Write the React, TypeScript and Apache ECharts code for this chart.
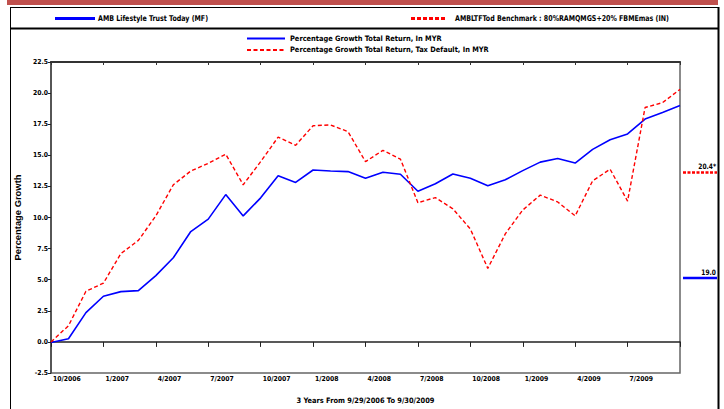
import React, { useEffect, useRef } from "react";
import * as echarts from "echarts";

const months = [
  "10/2006", "11/2006", "12/2006", "1/2007", "2/2007", "3/2007", "4/2007", "5/2007", "6/2007",
  "7/2007", "8/2007", "9/2007", "10/2007", "11/2007", "12/2007", "1/2008", "2/2008", "3/2008",
  "4/2008", "5/2008", "6/2008", "7/2008", "8/2008", "9/2008", "10/2008", "11/2008", "12/2008",
  "1/2009", "2/2009", "3/2009", "4/2009", "5/2009", "6/2009", "7/2009", "8/2009", "9/2009", "10/2009",
];

const fundName = "Percentage Growth Total Return, In MYR";
const benchName = "Percentage Growth Total Return, Tax Default, In MYR";

const fundValues = [
  -0.05, 0.25, 2.35, 3.67, 4.04, 4.12, 5.33, 6.76, 8.87, 9.87, 11.84, 10.13, 11.58,
  13.35, 12.82, 13.82, 13.74, 13.69, 13.16, 13.64, 13.48, 12.11, 12.71, 13.5, 13.16,
  12.56, 13.03, 13.77, 14.45, 14.75, 14.38, 15.48, 16.25, 16.72, 17.91, 18.44, 19.0,
];

const benchValues = [
  0.0, 1.3, 4.07, 4.72, 7.1, 8.16, 10.13, 12.63, 13.74, 14.35, 15.09, 12.63, 14.49,
  16.46, 15.8, 17.38, 17.44, 16.9, 14.49, 15.4, 14.69, 11.19, 11.6, 10.7, 9.08,
  5.91, 8.68, 10.6, 11.8, 11.25, 10.13, 12.95, 13.88, 11.32, 18.84, 19.23, 20.3,
];

const topLegend = ["AMB Lifestyle Trust Today (MF)", "AMBLTFTod Benchmark : 80%RAMQMGS+20% FBMEmas (IN)"];
const endLabels = ["19.0", "20.4*"];
const yAxisTitle = "Percentage Growth";
const xAxisTitle = "3 Years From 9/29/2006 To 9/30/2009";

const NARROW = "'Liberation Sans Narrow', 'Arial Narrow', 'DejaVu Sans Condensed', sans-serif";
const WIDE = "'Liberation Sans', Arial, sans-serif";

export default function App() {
  const ref = useRef<HTMLDivElement>(null);

  useEffect(() => {
    document.body.style.margin = "0";
    const chart = echarts.init(ref.current!, null, { renderer: "svg" });
    const tickFn = (i: number) => i % 3 === 0;
    const labelFn = (i: number) => i % 3 === 0 && i < months.length - 1;
    const narrowText = (text: string, x: number, y: number, extra: any = {}) => ({
      type: "text",
      x,
      y,
      scaleX: 0.88,
      style: {
        text,
        fontFamily: NARROW,
        fontWeight: "bold",
        fontSize: 8,
        fill: "#000",
        verticalAlign: "middle",
        ...extra,
      },
    });
    chart.setOption({
      animation: false,
      backgroundColor: "#fff",
      grid: {
        left: 51,
        right: 44,
        top: 62,
        bottom: 31,
        show: true,
        borderColor: "#666",
        borderWidth: 1.5,
      },
      legend: {
        left: 246,
        top: 35,
        orient: "vertical",
        itemWidth: 38,
        itemHeight: 8,
        itemGap: 4.4,
        padding: 0,
        itemStyle: { opacity: 0 },
        textStyle: { fontFamily: NARROW, fontWeight: "bold", fontSize: 7.4, color: "#000" },
        data: [fundName, benchName],
      },
      xAxis: [
        {
          type: "category",
          data: months,
          boundaryGap: false,
          position: "bottom",
          axisLine: { lineStyle: { color: "#222", width: 1.5 } },
          axisTick: { interval: tickFn, length: 5, lineStyle: { color: "#222" } },
          axisLabel: {
            interval: labelFn,
            align: "left",
            padding: [0, 0, 0, 2],
            margin: 2,
            fontFamily: NARROW,
            fontWeight: "bold",
            fontSize: 6.8,
            color: "#000",
          },
          splitLine: { show: false },
          name: xAxisTitle,
          nameLocation: "middle",
          nameGap: 24,
          nameTextStyle: { fontFamily: NARROW, fontWeight: "bold", fontSize: 7.4, color: "#000" },
        },
        {
          type: "category",
          data: months,
          boundaryGap: false,
          position: "top",
          axisLine: { lineStyle: { color: "#333", width: 2 } },
          axisTick: { interval: tickFn, inside: true, length: 3, lineStyle: { color: "#333" } },
          axisLabel: { show: false },
          splitLine: { show: false },
        },
      ],
      yAxis: {
        type: "value",
        min: -2.5,
        max: 22.5,
        interval: 2.5,
        axisLine: { show: true, lineStyle: { color: "#444", width: 1.5 } },
        axisTick: { show: true, length: 3, lineStyle: { color: "#222" } },
        axisLabel: {
          formatter: (v: number) => v.toFixed(1),
          margin: 3,
          fontFamily: NARROW,
          fontWeight: "bold",
          fontSize: 6.8,
          color: "#000",
        },
        splitLine: { show: false },
        name: yAxisTitle,
        nameLocation: "middle",
        nameGap: 26,
        nameRotate: 90,
        nameTextStyle: { fontFamily: WIDE, fontWeight: "bold", fontSize: 9.4, color: "#000" },
      },
      series: [
        {
          name: fundName,
          type: "line",
          data: fundValues,
          symbol: "none",
          lineStyle: { color: "#0000ff", width: 1.6 },
          itemStyle: { color: "#0000ff" },
        },
        {
          name: benchName,
          type: "line",
          data: benchValues,
          symbol: "none",
          lineStyle: { color: "#ff0000", width: 1.4, type: [4, 2.5] },
          itemStyle: { color: "#ff0000" },
        },
      ],
      graphic: [
        { type: "rect", shape: { x: 7, y: 0, width: 711, height: 5 }, style: { fill: "#c0504d" }, silent: true },
        { type: "line", shape: { x1: 10.5, y1: 7, x2: 10.5, y2: 409 }, style: { stroke: "#000", lineWidth: 1 } },
        { type: "line", shape: { x1: 10, y1: 7.5, x2: 719, y2: 7.5 }, style: { stroke: "#000", lineWidth: 1 } },
        { type: "line", shape: { x1: 10, y1: 28.5, x2: 719, y2: 28.5 }, style: { stroke: "#000", lineWidth: 2 } },
        { type: "line", shape: { x1: 718.5, y1: 7, x2: 718.5, y2: 409 }, style: { stroke: "#000", lineWidth: 2 } },
        { type: "line", shape: { x1: 55, y1: 18.5, x2: 95, y2: 18.5 }, style: { stroke: "#0000ff", lineWidth: 3 } },
        narrowText(topLegend[0], 98, 18.5),
        {
          type: "line",
          shape: { x1: 411, y1: 18.5, x2: 446, y2: 18.5 },
          style: { stroke: "#ff0000", lineWidth: 3, lineDash: [4, 2] },
        },
        narrowText(topLegend[1], 455, 18.5),
        {
          type: "line",
          shape: { x1: 683, y1: 172.5, x2: 717, y2: 172.5 },
          style: { stroke: "#ff0000", lineWidth: 2.5, lineDash: [3, 1.5] },
        },
        narrowText(endLabels[1], 716, 166, { align: "right", fontSize: 7.5 }),
        { type: "line", shape: { x1: 683, y1: 278, x2: 717, y2: 278 }, style: { stroke: "#0000ff", lineWidth: 2.5 } },
        narrowText(endLabels[0], 716, 272, { align: "right", fontSize: 7.5 }),
      ],
    });
    return () => chart.dispose();
  }, []);

  return <div ref={ref} style={{ width: 724, height: 409 }} />;
}
